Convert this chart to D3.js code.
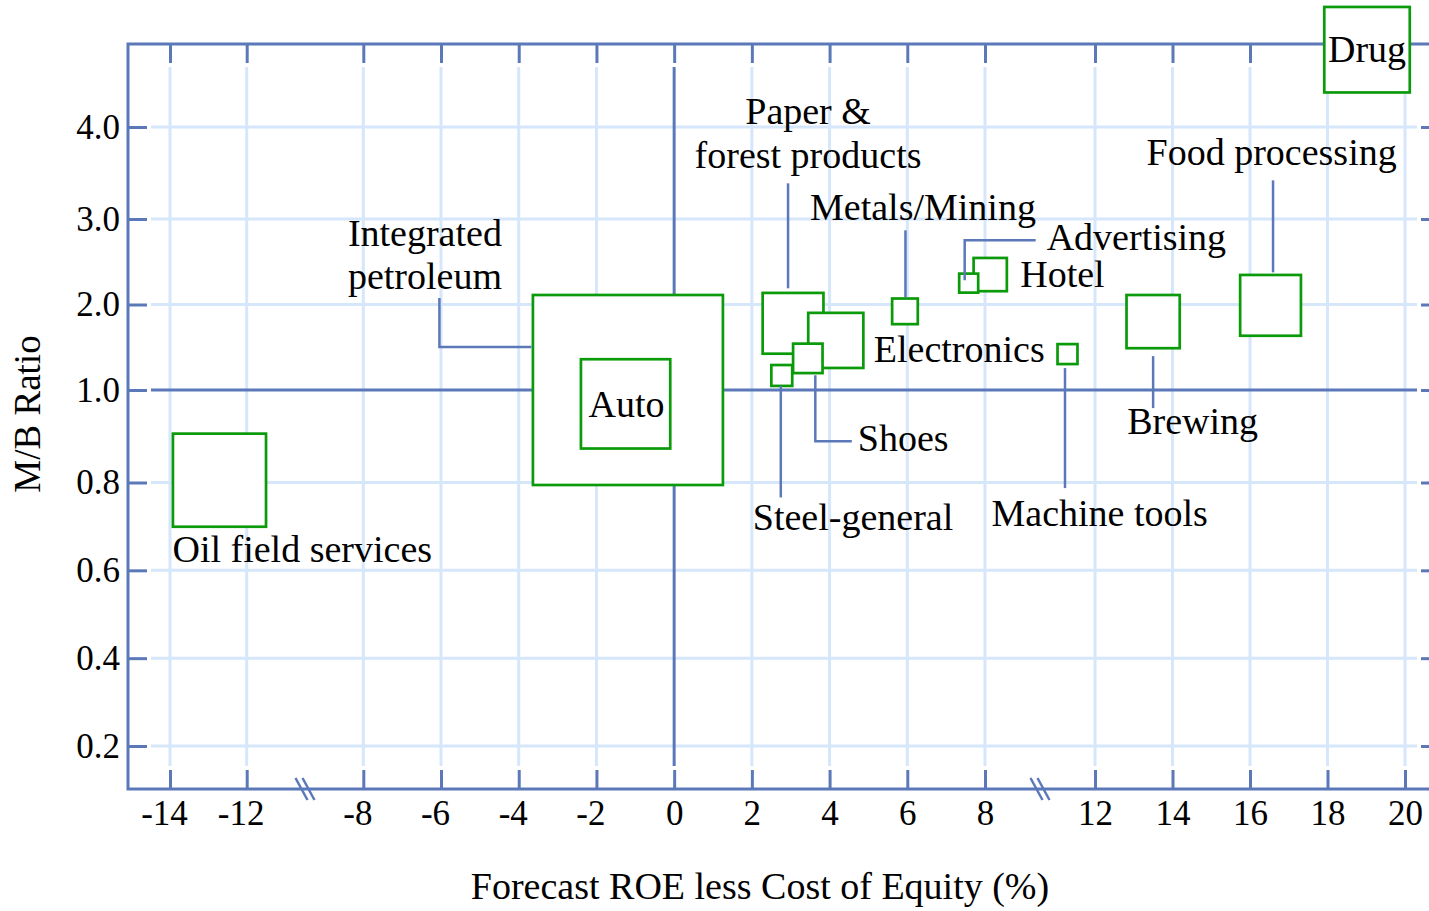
<!DOCTYPE html>
<html>
<head>
<meta charset="utf-8">
<script src="https://cdn.jsdelivr.net/npm/d3@7"></script>
<style>
  body { margin: 0; background: #fff; }
  svg { display: block; font-family: "Liberation Serif", "Times New Roman", serif; }
</style>
</head>
<body>
<div id="chart"></div>
<script>
// data
const categories = ["Integrated petroleum", "Oil field services", "Auto", "Drug",
  "Paper & forest products", "Food processing", "Electronics", "Brewing",
  "Hotel", "Shoes", "Metals/Mining", "Steel-general", "Machine tools", "Advertising"]
const roeSpread = [-1.19, -12.71, -1.25, 19.02, 3.06, 16.53, 4.16, 13.5, 8.19, 3.44, 5.94, 2.77, 11.0, 7.58]
const mbRatio = [1.0, 0.805, 0.97, 4.84, 1.78, 1.99, 1.58, 1.80, 2.35, 1.37, 1.92, 1.17, 1.42, 2.25]
const sizeIndex = [100, 49, 47, 45, 32, 32, 29, 28, 17.5, 15.5, 13.5, 11, 10.5, 10]

const xTicks = [-14, -12, -8, -6, -4, -2, 0, 2, 4, 6, 8, 12, 14, 16, 18, 20]
const yTicks = [0.2, 0.4, 0.6, 0.8, 1.0, 2.0, 3.0, 4.0]
const xBreaks = [-10, 10]

// screen setting
const width = 1429, height = 911
const frame = {left: 128, right: 1440, top: 44, bottom: 789}
const tickLen = 19, gridGap = 23
const axisColor = "#5b79b9", gridColor = "#d6e6fb", boxColor = "#0a9a0a"

function translate(x, y) { return `translate(${x}, ${y})` }

// broken x axis and split y axis -> piecewise linear scales
const x = d3.scaleLinear().domain([-14, -12, -8, 8, 12, 20]).range([170, 246.7, 363.3, 985, 1095, 1405])
const y = d3.scaleLinear().domain([0.2, 0.8, 1, 2, 3, 4]).range([746, 482.5, 390, 304.5, 219, 127])
const side = d3.scaleLinear().domain([0, 100]).range([0, 190])

const svg = d3.select("#chart").append("svg").attr("width", width).attr("height", height)

// grid
const grid = svg.append("g").attr("id", "grid")
grid.selectAll("line.v").data(xTicks).join("line").attr("class", "v")
  .attr("x1", d => x(d)).attr("x2", d => x(d))
  .attr("y1", frame.top + gridGap).attr("y2", frame.bottom - gridGap)
  .attr("stroke", d => d === 0 ? axisColor : gridColor).attr("stroke-width", 3)
grid.selectAll("line.h").data(yTicks).join("line").attr("class", "h")
  .attr("y1", d => y(d)).attr("y2", d => y(d))
  .attr("x1", frame.left + gridGap).attr("x2", frame.right - gridGap)
  .attr("stroke", d => d === 1 ? axisColor : gridColor).attr("stroke-width", 3)
// keep the reference lines on top of the light grid
grid.selectAll("line").filter(function(d) {
  return (this.getAttribute("class") === "v" && d === 0) || (this.getAttribute("class") === "h" && d === 1)
}).raise()

// axes (ticks inward)
const xAxis = d3.axisBottom(x).tickValues(xTicks).tickSize(-tickLen).tickPadding(11).tickFormat(d => String(d))
const xAxisTop = d3.axisTop(x).tickValues(xTicks).tickSize(-tickLen).tickFormat("")
const yAxis = d3.axisLeft(y).tickValues(yTicks).tickSize(-tickLen).tickPadding(8).tickFormat(d3.format(".1f"))
const yAxisRight = d3.axisRight(y).tickValues(yTicks).tickSize(-tickLen).tickFormat("")

svg.append("g").attr("id", "xArea").attr("transform", translate(0, frame.bottom)).call(xAxis)
svg.append("g").attr("id", "xTopArea").attr("transform", translate(0, frame.top)).call(xAxisTop)
svg.append("g").attr("id", "yArea").attr("transform", translate(frame.left, 0)).call(yAxis)
svg.append("g").attr("id", "yRightArea").attr("transform", translate(frame.right, 0)).call(yAxisRight)

svg.selectAll(".domain").remove()
svg.selectAll(".tick line").attr("stroke", axisColor).attr("stroke-width", 3)
svg.selectAll(".tick text").attr("font-family", "Liberation Serif, serif").attr("font-size", 35).attr("fill", "#000")
// minus sign hangs to the left, digits stay under the tick
d3.select("#xArea").selectAll(".tick text").filter(d => d < 0).attr("dx", -6)

svg.append("rect").attr("x", frame.left).attr("y", frame.top)
  .attr("width", frame.right - frame.left).attr("height", frame.bottom - frame.top)
  .attr("fill", "none").attr("stroke", axisColor).attr("stroke-width", 3)

// axis break marks
const breaks = svg.append("g").attr("id", "breaks")
xBreaks.forEach(b => {
  [-3.5, 3.5].forEach(off => {
    breaks.append("line")
      .attr("x1", x(b) + off - 6).attr("y1", frame.bottom - 11)
      .attr("x2", x(b) + off + 6).attr("y2", frame.bottom + 11)
      .attr("stroke", axisColor).attr("stroke-width", 2.5)
  })
})

// boxes
const data = categories.map((c, i) => ({name: c, roe: roeSpread[i], mb: mbRatio[i], size: sizeIndex[i]}))
const byName = {}
data.forEach(d => byName[d.name] = d)

svg.append("g").attr("id", "boxArea").selectAll("rect")
  .data(data.slice().sort((a, b) => b.size - a.size)).join("rect")
  .attr("x", d => x(d.roe) - side(d.size) / 2)
  .attr("y", d => y(d.mb) - side(d.size) / 2)
  .attr("width", d => side(d.size)).attr("height", d => side(d.size))
  .attr("fill", "#fff").attr("stroke", boxColor).attr("stroke-width", 2.7)

// labels and leader lines, offsets from the box centre
const labelLayout = [
  {name: "Integrated petroleum", lines: ["Integrated", "petroleum"], anchor: "middle", dx: -203, dy: [-144, -101],
    leader: [[-188.5, -92], [-188.5, -43], [-96.5, -43]]},
  {name: "Auto", lines: ["Auto"], anchor: "middle", dx: 1, dy: [13]},
  {name: "Oil field services", lines: ["Oil field services"], anchor: "start", dx: -47, dy: [82]},
  {name: "Drug", lines: ["Drug"], anchor: "middle", dx: 0, dy: [12]},
  {name: "Paper & forest products", lines: ["Paper &", "forest products"], anchor: "middle", dx: 15, dy: [-199, -155],
    leader: [[-5, -140], [-5, -35]]},
  {name: "Metals/Mining", lines: ["Metals/Mining"], anchor: "middle", dx: 18, dy: [-91],
    leader: [[0.5, -81], [0.5, -14]]},
  {name: "Advertising", lines: ["Advertising"], anchor: "start", dx: 78, dy: [-33],
    leader: [[67, -43], [-4, -43], [-4, -3]]},
  {name: "Hotel", lines: ["Hotel"], anchor: "start", dx: 30, dy: [12]},
  {name: "Electronics", lines: ["Electronics"], anchor: "start", dx: 38, dy: [22]},
  {name: "Shoes", lines: ["Shoes"], anchor: "start", dx: 50, dy: [93],
    leader: [[7.5, 17], [7.5, 83], [44, 83]]},
  {name: "Steel-general", lines: ["Steel-general"], anchor: "start", dx: -29, dy: [155],
    leader: [[-1, 10.5], [-1, 122]]},
  {name: "Machine tools", lines: ["Machine tools"], anchor: "start", dx: -76, dy: [172],
    leader: [[-2.5, 14], [-2.5, 134]]},
  {name: "Brewing", lines: ["Brewing"], anchor: "start", dx: -26, dy: [112],
    leader: [[0, 34.5], [0, 86.5]]},
  {name: "Food processing", lines: ["Food processing"], anchor: "start", dx: -124, dy: [-140],
    leader: [[2.5, -125], [2.5, -33]]}
]

const leaderArea = svg.append("g").attr("id", "leaderArea")
const labelArea = svg.append("g").attr("id", "labelArea")
const line = d3.line()
labelLayout.forEach(l => {
  const d = byName[l.name]
  const cx = x(d.roe), cy = y(d.mb)
  if (l.leader) {
    leaderArea.append("path")
      .attr("d", line(l.leader.map(p => [cx + p[0], cy + p[1]])))
      .attr("fill", "none").attr("stroke", axisColor).attr("stroke-width", 2.5)
  }
  l.lines.forEach((t, i) => {
    labelArea.append("text")
      .attr("x", cx + l.dx).attr("y", cy + l.dy[i])
      .attr("text-anchor", l.anchor)
      .attr("font-size", 38).attr("fill", "#000")
      .text(t)
  })
})

// axis titles
svg.append("text").attr("x", 760).attr("y", 899).attr("text-anchor", "middle")
  .attr("font-size", 38).text("Forecast ROE less Cost of Equity (%)")
svg.append("text").attr("transform", translate(40, 414) + " rotate(-90)").attr("text-anchor", "middle")
  .attr("font-size", 37).text("M/B Ratio")
</script>
</body>
</html>
